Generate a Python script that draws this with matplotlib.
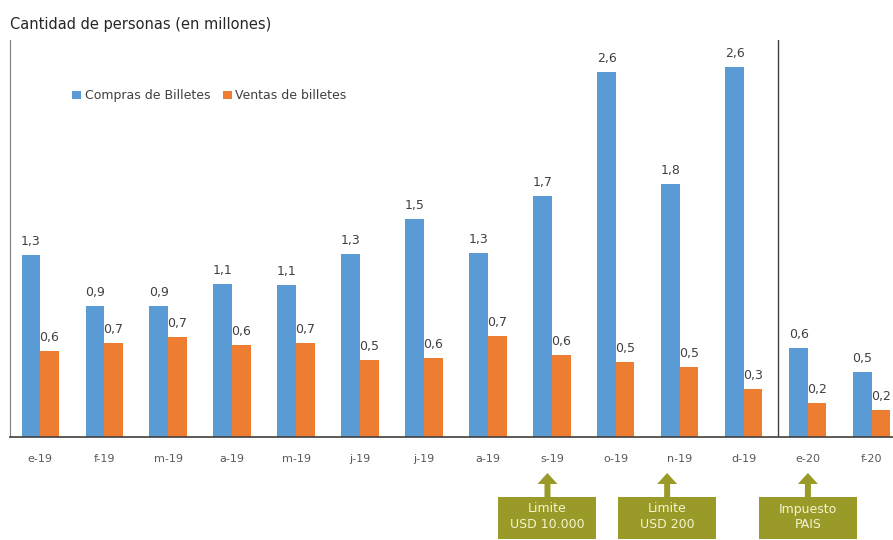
import numpy as np
import matplotlib.pyplot as plt
from matplotlib.patches import Rectangle, Polygon
from matplotlib.transforms import blended_transform_factory

meses = ['e-19', 'f-19', 'm-19', 'a-19', 'm-19', 'j-19', 'j-19', 'a-19',
         's-19', 'o-19', 'n-19', 'd-19', 'e-20', 'f-20']
compras = [1.29, 0.93, 0.93, 1.09, 1.08, 1.30, 1.55, 1.31, 1.71, 2.59, 1.80, 2.63, 0.63, 0.46]
ventas = [0.61, 0.67, 0.71, 0.65, 0.67, 0.55, 0.56, 0.72, 0.58, 0.53, 0.50, 0.34, 0.24, 0.19]
etiq_compras = ['1,3', '0,9', '0,9', '1,1', '1,1', '1,3', '1,5', '1,3', '1,7', '2,6', '1,8', '2,6', '0,6', '0,5']
etiq_ventas = ['0,6', '0,7', '0,7', '0,6', '0,7', '0,5', '0,6', '0,7', '0,6', '0,5', '0,5', '0,3', '0,2', '0,2']

# medidas: (posicion x, texto)
medidas = [(7.93, 'Limite\nUSD 10.000'), (9.8, 'Limite\nUSD 200'), (12.0, 'Impuesto\nPAIS')]

azul = '#5b9bd5'
naranja = '#ed7d31'
oliva = '#9a9a28'

fig = plt.figure(figsize=(8.93, 5.4), dpi=100)
ax = fig.add_axes([10 / 893, 103 / 540, 883 / 893, 397 / 540])

x = np.arange(len(meses))
w = 0.29
ax.bar(x - w / 2, compras, w, color=azul, label='Compras de Billetes')
ax.bar(x + w / 2, ventas, w, color=naranja, label='Ventas de billetes')

for i in range(len(meses)):
    ax.text(x[i] - w / 2, compras[i] + 0.05, etiq_compras[i], ha='center', va='bottom',
            fontsize=9, color='#404040')
    ax.text(x[i] + w / 2, ventas[i] + 0.05, etiq_ventas[i], ha='center', va='bottom',
            fontsize=9, color='#404040')

ax.set_xlim(-0.47, 13.33)
ax.set_ylim(0, 2.82)
ax.set_xticks(x)
ax.set_xticklabels(meses, fontsize=8, color='#595959')
ax.tick_params(axis='x', length=0, pad=12)
ax.set_yticks([])
for s in ['top', 'right']:
    ax.spines[s].set_visible(False)
ax.spines['left'].set_color('#808080')
ax.spines['bottom'].set_color('#404040')
ax.spines['bottom'].set_linewidth(1.2)

# separador entre 2019 y 2020
ax.axvline(11.53, color='#404040', lw=1.0)

ax.legend(loc='center left', bbox_to_anchor=(0.058, 0.859), ncol=2, frameon=False,
          handlelength=0.7, handleheight=0.7, handletextpad=0.3, columnspacing=1.0,
          fontsize=9, labelcolor='#404040')

fig.text(10 / 893, 1 - 25 / 540, 'Cantidad de personas (en millones)', fontsize=10.5,
         color='#262626', va='center')

# cajas de medidas
tr = blended_transform_factory(ax.transData, fig.transFigure)
bw = 98 / 64
for xm, txt in medidas:
    caja = Rectangle((xm - bw / 2, 1 / 540), bw, 42 / 540, transform=tr,
                     facecolor=oliva, edgecolor='none', clip_on=False)
    fig.add_artist(caja)
    sw = 3 / 64
    hw = 10 / 64
    flecha = Polygon([(xm - sw, 1 - 497 / 540), (xm - sw, 1 - 484 / 540),
                      (xm - hw, 1 - 484 / 540), (xm, 1 - 473 / 540),
                      (xm + hw, 1 - 484 / 540), (xm + sw, 1 - 484 / 540),
                      (xm + sw, 1 - 497 / 540)], closed=True, transform=tr,
                     facecolor=oliva, edgecolor='none', clip_on=False)
    fig.add_artist(flecha)
    fig.text(xm, 1 - 517 / 540, txt, transform=tr, ha='center', va='center',
             fontsize=9, color='#f4f4d0', linespacing=1.3)

fig.savefig('out.png', dpi=100)
